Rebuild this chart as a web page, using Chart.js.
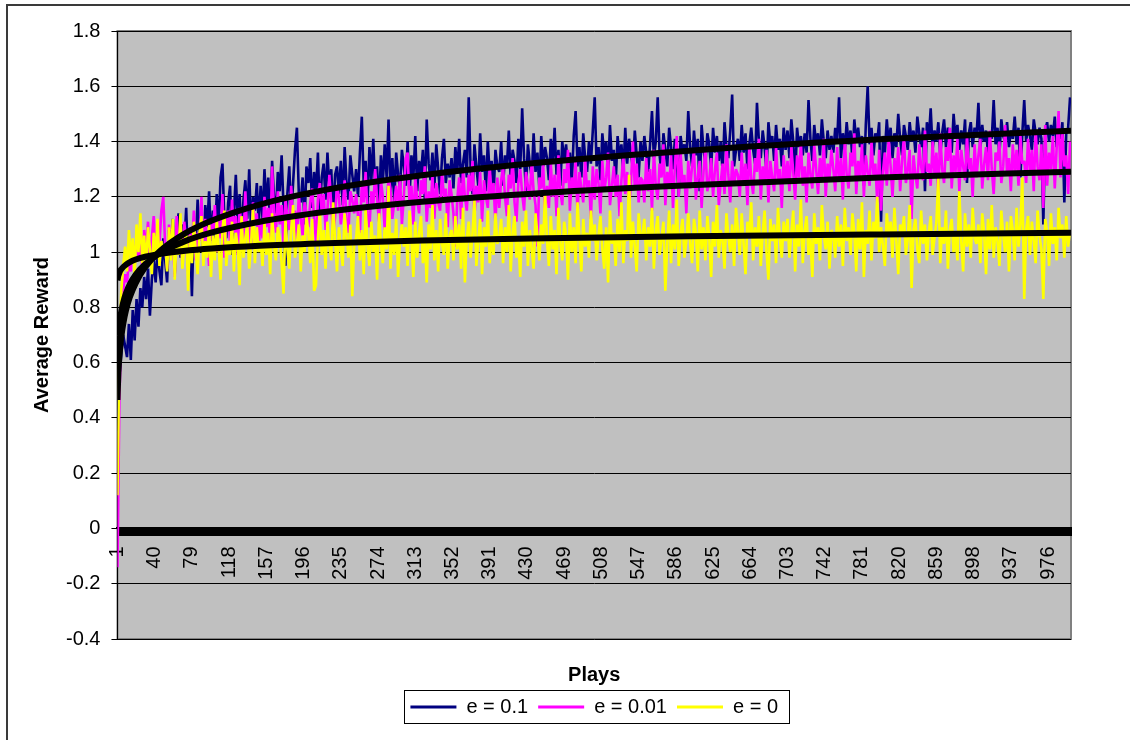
<!DOCTYPE html>
<html>
<head>
<meta charset="utf-8">
<title>Average Reward</title>
<script src="https://cdn.jsdelivr.net/npm/chart.js@4.4.1/dist/chart.umd.min.js"></script>
<style>
  html, body { margin: 0; padding: 0; background: #fff; }
  #wrap { width: 1130px; height: 740px; }
</style>
</head>
<body>
<div id="wrap"><canvas id="chart" width="1130" height="740"></canvas></div>
<script>
// Play numbers shown on the horizontal axis
const playTicks = [1, 40, 79, 118, 157, 196, 235, 274, 313, 352, 391, 430, 469, 508, 547, 586, 625, 664, 703, 742, 781, 820, 859, 898, 937, 976];

// Sampled plays for the reward curves (every second play)
const plays = Array.from({ length: 500 }, (_, i) => 2 * i + 1);

// Average reward, epsilon = 0.1
const rewardE01 = [
  0.40, 0.55, 0.63, 0.70, 0.66, 0.62, 0.74, 0.61, 0.79, 0.68, 0.83, 0.73, 0.87, 0.80, 0.91, 0.83, 0.94, 0.77, 0.90, 0.97, 0.89, 1.01, 0.93, 0.88, 1.05,
  0.97, 0.89, 1.08, 0.99, 1.12, 0.92, 1.05, 1.14, 0.98, 1.10, 1.02, 1.16, 0.95, 1.07, 0.84, 1.11, 1.03, 1.19, 1.06, 1.13, 0.99, 1.17, 1.09, 1.22, 1.04,
  1.15, 1.03, 1.21, 1.09, 1.27, 1.32, 1.12, 1.05, 1.18, 1.24, 0.99, 1.14, 1.28, 1.10, 1.21, 1.04, 1.19, 1.26, 1.12, 1.30, 1.07, 1.20, 1.15, 1.25, 1.10,
  1.24, 1.12, 1.30, 1.17, 1.27, 1.08, 1.33, 1.20, 1.14, 1.29, 1.22, 1.35, 1.16, 0.95, 1.21, 1.31, 1.13, 1.25, 1.37, 1.45, 1.21, 1.18, 1.27, 1.10, 1.31,
  1.25, 1.34, 1.16, 1.29, 1.21, 1.36, 1.14, 1.27, 1.32, 1.19, 1.36, 1.23, 1.30, 1.12, 1.28, 1.31, 1.21, 1.33, 1.17, 1.38, 1.25, 1.19, 1.35, 1.28, 1.22,
  1.30, 1.20, 1.36, 1.49, 1.24, 1.33, 1.17, 1.38, 1.26, 1.41, 1.22, 1.31, 1.15, 1.35, 1.25, 1.39, 1.27, 1.48, 1.21, 1.34, 1.18, 1.36, 1.28, 1.23, 1.37,
  1.31, 1.24, 1.40, 1.20, 1.35, 1.27, 1.42, 1.22, 1.33, 1.28, 1.37, 1.19, 1.48, 1.32, 1.26, 1.36, 1.23, 1.39, 1.30, 1.21, 1.34, 1.41, 1.25, 1.32, 1.27,
  1.34, 1.23, 1.38, 1.29, 1.41, 1.25, 1.32, 1.37, 1.27, 1.56, 1.30, 1.21, 1.39, 1.31, 1.24, 1.43, 1.29, 1.35, 1.22, 1.40, 1.28, 1.33, 1.20, 1.37, 1.31,
  1.29, 1.40, 1.24, 1.35, 1.31, 1.44, 1.26, 1.37, 1.33, 1.25, 1.41, 1.30, 1.52, 1.34, 1.22, 1.39, 1.32, 1.27, 1.43, 1.29, 1.36, 1.23, 1.42, 1.31, 1.38,
  1.34, 1.26, 1.41, 1.32, 1.45, 1.28, 1.37, 1.24, 1.40, 1.33, 1.39, 1.30, 1.36, 1.25, 1.42, 1.51, 1.31, 1.38, 1.27, 1.43, 1.34, 1.29, 1.40, 1.32, 1.44,
  1.56, 1.31, 1.38, 1.26, 1.43, 1.35, 1.40, 1.29, 1.46, 1.33, 1.37, 1.25, 1.42, 1.34, 1.39, 1.28, 1.45, 1.32, 1.41, 1.36, 1.30, 1.44, 1.35, 1.27, 1.40,
  1.33, 1.42, 1.36, 1.29, 1.39, 1.51, 1.34, 1.40, 1.56, 1.35, 1.28, 1.43, 1.37, 1.31, 1.45, 1.38, 1.30, 1.41, 1.34, 1.20, 1.42, 1.36, 1.39, 1.33, 1.51,
  1.38, 1.31, 1.44, 1.35, 1.41, 1.22, 1.46, 1.37, 1.32, 1.43, 1.39, 1.30, 1.45, 1.36, 1.42, 1.33, 1.40, 1.29, 1.47, 1.38, 1.34, 1.44, 1.57, 1.31, 1.37,
  1.41, 1.33, 1.46, 1.36, 1.43, 1.30, 1.39, 1.45, 1.37, 1.32, 1.54, 1.40, 1.34, 1.44, 1.38, 1.29, 1.47, 1.39, 1.42, 1.33, 1.46, 1.37, 1.41, 1.31, 1.45,
  1.37, 1.44, 1.34, 1.48, 1.40, 1.26, 1.45, 1.38, 1.42, 1.35, 1.43, 1.36, 1.55, 1.41, 1.33, 1.46, 1.39, 1.43, 1.35, 1.48, 1.40, 1.34, 1.44, 1.37, 1.42,
  1.36, 1.45, 1.40, 1.56, 1.34, 1.43, 1.37, 1.47, 1.39, 1.44, 1.33, 1.48, 1.40, 1.45, 1.38, 1.42, 1.24, 1.46, 1.60, 1.39, 1.45, 1.35, 1.43, 1.40, 1.47,
  1.11, 1.42, 1.36, 1.48, 1.39, 1.45, 1.34, 1.43, 1.38, 1.50, 1.41, 1.35, 1.46, 1.42, 1.37, 1.47, 1.40, 1.44, 1.36, 1.49, 1.43, 1.38, 1.45, 1.22, 1.47,
  1.41, 1.52, 1.37, 1.44, 1.40, 1.47, 1.35, 1.43, 1.48, 1.38, 1.45, 1.42, 1.36, 1.50, 1.41, 1.46, 1.37, 1.44, 1.39, 1.48, 1.25, 1.43, 1.47, 1.38, 1.45,
  1.42, 1.54, 1.37, 1.46, 1.40, 1.44, 1.36, 1.43, 1.41, 1.55, 1.39, 1.45, 1.35, 1.48, 1.42, 1.40, 1.47, 1.38, 1.44, 1.41, 1.49, 1.39, 1.45, 1.27, 1.43,
  1.55, 1.40, 1.46, 1.42, 1.37, 1.48, 1.43, 1.39, 1.45, 1.41, 1.10, 1.44, 1.47, 1.40, 1.46, 1.42, 1.49, 1.38, 1.44, 1.41, 1.47, 1.18, 1.43, 1.45, 1.56
];

// Average reward, epsilon = 0.01
const rewardE001 = [
  -0.14, 0.46, 0.74, 0.86, 0.92, 0.89, 0.97, 0.93, 1.02, 0.95, 1.06, 0.98, 1.04, 0.94, 1.08, 1.01, 1.11, 0.97, 1.05, 1.13, 1.00, 1.09, 1.03, 1.15, 1.20,
  1.02, 0.94, 1.10, 0.98, 1.06, 0.91, 1.13, 1.00, 1.08, 0.96, 1.11, 1.03, 0.93, 1.09, 1.01, 1.15, 0.97, 1.07, 1.04, 1.20, 0.99, 1.12, 1.05, 0.95, 1.10,
  1.08, 1.17, 1.00, 1.12, 1.05, 1.21, 0.98, 1.10, 1.15, 1.03, 1.19, 1.07, 1.13, 0.99, 1.16, 1.09, 1.04, 1.22, 1.06, 1.11, 1.01, 1.18, 1.10, 1.14, 1.02,
  1.12, 1.05, 1.20, 1.09, 1.16, 1.03, 1.31, 1.14, 1.07, 1.22, 1.10, 1.17, 1.02, 1.19, 1.13, 1.08, 1.24, 1.11, 1.15, 1.04, 1.21, 1.12, 1.06, 1.18, 1.14,
  1.09, 1.18, 1.23, 1.12, 1.04, 1.19, 1.25, 1.14, 1.21, 1.08, 1.15, 1.28, 1.17, 1.06, 1.13, 1.24, 1.20, 1.10, 1.16, 1.26, 1.11, 1.07, 1.22, 1.19, 1.14,
  1.21, 1.13, 1.07, 1.25, 1.18, 1.29, 1.14, 1.09, 1.22, 1.16, 1.30, 1.19, 1.11, 1.26, 1.20, 1.08, 1.17, 1.27, 1.23, 1.12, 1.18, 1.24, 1.15, 1.28, 1.10,
  1.20, 1.34, 1.36, 1.17, 1.24, 1.10, 1.27, 1.19, 1.14, 1.26, 1.21, 1.31, 1.11, 1.22, 1.16, 1.28, 1.12, 1.25, 1.18, 1.15, 1.29, 1.20, 1.23, 1.09, 1.26,
  1.21, 1.14, 1.02, 1.19, 1.27, 1.12, 1.30, 1.20, 1.15, 1.28, 1.22, 1.33, 1.13, 1.24, 1.18, 1.29, 1.11, 1.26, 1.20, 1.16, 1.31, 1.19, 1.25, 1.10, 1.27,
  1.16, 1.26, 1.31, 1.20, 1.13, 1.28, 1.23, 1.34, 1.18, 1.11, 1.25, 1.30, 1.21, 1.15, 1.29, 1.24, 1.19, 1.33, 1.22, 1.17, 1.02, 1.27, 1.23, 1.32, 1.14,
  1.24, 1.16, 1.32, 1.20, 1.28, 1.13, 1.35, 1.22, 1.17, 1.30, 1.25, 1.37, 1.15, 1.27, 1.21, 1.33, 1.14, 1.29, 1.23, 1.18, 1.34, 1.22, 1.26, 1.12, 1.31,
  1.19, 1.30, 1.25, 1.14, 1.33, 1.22, 1.27, 1.36, 1.17, 1.24, 1.31, 1.20, 1.28, 1.13, 1.26, 1.35, 1.21, 1.29, 1.16, 1.25, 1.40, 1.23, 1.32, 1.18, 1.27,
  1.26, 1.18, 1.34, 1.22, 1.30, 1.15, 1.37, 1.24, 1.19, 1.32, 1.27, 1.39, 1.17, 1.29, 1.23, 1.35, 1.16, 1.31, 1.42, 1.20, 1.36, 1.24, 1.28, 1.14, 1.33,
  1.23, 1.31, 1.37, 1.19, 1.27, 1.33, 1.16, 1.29, 1.38, 1.22, 1.26, 1.34, 1.20, 1.30, 1.36, 1.17, 1.25, 1.32, 1.21, 1.39, 1.28, 1.18, 1.33, 1.24, 1.30,
  1.28, 1.20, 1.36, 1.24, 1.32, 1.17, 1.39, 1.26, 1.21, 1.34, 1.29, 1.41, 1.19, 1.31, 1.25, 1.37, 1.18, 1.33, 1.27, 1.22, 1.38, 1.26, 1.30, 1.16, 1.35,
  1.25, 1.33, 1.22, 1.38, 1.29, 1.19, 1.35, 1.27, 1.40, 1.24, 1.31, 1.18, 1.36, 1.28, 1.23, 1.39, 1.30, 1.21, 1.34, 1.26, 1.41, 1.20, 1.32, 1.27, 1.37,
  1.30, 1.22, 1.38, 1.26, 1.34, 1.19, 1.41, 1.28, 1.23, 1.36, 1.31, 1.43, 1.21, 1.33, 1.27, 1.39, 1.20, 1.35, 1.29, 1.24, 1.40, 1.28, 1.32, 1.18, 1.37,
  1.15, 1.29, 1.36, 1.24, 1.41, 1.31, 1.20, 1.34, 1.27, 1.38, 1.22, 1.33, 1.42, 1.25, 1.30, 1.37, 1.12, 1.35, 1.28, 1.23, 1.39, 1.31, 1.26, 1.44, 1.29,
  1.32, 1.24, 1.40, 1.28, 1.36, 1.21, 1.43, 1.30, 1.25, 1.38, 1.33, 1.45, 1.23, 1.35, 1.29, 1.41, 1.22, 1.37, 1.31, 1.26, 1.42, 1.30, 1.34, 1.20, 1.39,
  1.27, 1.35, 1.41, 1.23, 1.32, 1.38, 1.26, 1.44, 1.30, 1.21, 1.36, 1.33, 1.40, 1.25, 1.31, 1.46, 1.28, 1.34, 1.22, 1.39, 1.29, 1.37, 1.24, 1.42, 1.32,
  1.33, 1.25, 1.41, 1.29, 1.37, 1.22, 1.44, 1.31, 1.26, 1.39, 1.16, 1.46, 1.24, 1.36, 1.30, 1.42, 1.23, 1.38, 1.51, 1.27, 1.43, 1.31, 1.35, 1.21, 1.40
];

// Average reward, epsilon = 0 (greedy)
const rewardE0 = [
  0.12, 0.63, 0.86, 0.95, 1.02, 0.93, 1.08, 0.97, 1.05, 0.91, 1.10, 1.00, 1.14, 0.96, 1.06, 0.94, 1.09, 1.01, 0.92, 1.07, 0.98, 1.12, 0.95, 1.04, 0.99,
  1.03, 0.93, 1.09, 0.97, 1.12, 0.90, 1.05, 0.99, 1.14, 0.94, 1.02, 1.08, 0.86, 1.06, 0.96, 1.11, 1.00, 0.92, 1.07, 1.13, 0.95, 1.04, 0.98, 1.10, 0.91,
  1.06, 0.97, 1.12, 1.01, 0.90, 1.08, 1.15, 0.95, 1.04, 0.99, 1.11, 0.93, 1.07, 1.02, 0.88, 1.13, 0.98, 1.05, 1.10, 0.94, 1.03, 1.16, 0.96, 1.09, 1.00,
  1.04, 0.95, 1.11, 0.99, 1.07, 0.92, 1.14, 1.02, 0.97, 1.09, 1.05, 0.96, 0.85, 1.12, 1.01, 0.94, 1.08, 1.17, 0.98, 1.03, 1.10, 0.93, 1.06, 1.00, 1.13,
  1.07, 0.96, 1.12, 0.86, 0.88, 1.05, 1.15, 0.99, 1.08, 0.94, 1.11, 1.02, 0.97, 1.18, 1.04, 0.93, 1.09, 1.01, 0.95, 1.14, 1.06, 0.98, 1.10, 0.84, 1.03,
  1.05, 1.13, 0.97, 1.08, 0.92, 1.16, 1.02, 0.95, 1.11, 1.00, 1.06, 0.90, 1.14, 1.03, 0.96, 1.09, 1.01, 1.24, 0.94, 1.07, 0.99, 1.12, 0.91, 1.04, 1.10,
  1.02, 1.09, 0.95, 1.15, 1.04, 0.91, 1.11, 0.98, 1.07, 1.13, 0.96, 1.05, 0.89, 1.10, 1.01, 1.17, 0.97, 1.08, 0.93, 1.12, 1.03, 0.99, 1.14, 0.94, 1.06,
  1.08, 0.97, 1.13, 1.01, 1.10, 0.94, 1.16, 0.89, 1.05, 1.11, 0.98, 1.07, 1.19, 0.95, 1.04, 1.12, 0.92, 1.09, 1.02, 1.15, 0.96, 1.06, 0.99, 1.14, 1.03,
  1.05, 1.12, 0.96, 1.09, 1.00, 1.17, 0.93, 1.07, 1.13, 0.98, 1.04, 0.91, 1.11, 1.02, 1.15, 0.95, 1.08, 1.01, 0.94, 1.14, 1.06, 0.97, 1.10, 1.03, 1.22,
  1.04, 0.95, 1.13, 1.01, 1.08, 0.92, 1.16, 1.03, 0.97, 1.11, 1.06, 0.90, 1.14, 1.00, 1.09, 0.96, 1.18, 1.05, 0.93, 1.12, 1.02, 1.07, 0.98, 1.15, 1.04,
  1.10, 0.97, 1.06, 1.13, 1.01, 0.94, 1.09, 0.89, 1.15, 1.03, 1.07, 0.95, 1.12, 1.00, 1.18, 0.96, 1.08, 1.04, 1.28, 0.98, 1.11, 1.02, 0.93, 1.14, 1.05,
  1.06, 1.12, 0.97, 1.09, 1.02, 1.16, 0.94, 1.08, 1.13, 0.99, 1.05, 1.11, 0.86, 1.03, 1.15, 0.96, 1.10, 1.01, 1.19, 0.95, 1.07, 1.12, 0.98, 1.04, 1.14,
  1.03, 0.96, 1.12, 1.07, 0.93, 1.15, 1.01, 1.09, 0.97, 1.13, 1.05, 0.91, 1.11, 1.02, 1.17, 0.98, 1.08, 1.04, 0.94, 1.14, 1.06, 1.00, 1.10, 0.95, 1.16,
  1.08, 0.99, 1.14, 1.03, 0.92, 1.11, 1.06, 1.18, 0.97, 1.09, 1.02, 1.13, 0.95, 1.07, 1.15, 1.00, 0.90, 1.12, 1.04, 1.10, 0.96, 1.16, 1.05, 0.98, 1.11,
  1.04, 1.12, 0.98, 1.07, 1.15, 0.93, 1.10, 1.02, 1.19, 0.96, 1.08, 1.13, 0.99, 1.05, 0.91, 1.14, 1.03, 1.09, 0.97, 1.17, 1.06, 1.01, 1.11, 0.94, 1.08,
  1.06, 0.98, 1.13, 1.02, 1.10, 0.95, 1.16, 1.04, 1.09, 0.99, 1.14, 1.07, 0.93, 1.12, 1.01, 1.18, 0.91, 1.08, 1.03, 1.15, 0.97, 1.11, 1.05, 1.20, 1.00,
  1.09, 1.02, 0.95, 1.14, 1.06, 1.11, 0.98, 1.16, 1.04, 0.92, 1.10, 1.07, 1.13, 0.99, 1.05, 1.17, 0.87, 1.08, 1.12, 1.01, 0.96, 1.15, 1.03, 1.10, 0.97,
  1.07, 1.13, 0.99, 1.05, 1.11, 1.27, 0.96, 1.09, 1.03, 1.15, 0.94, 1.08, 1.12, 1.00, 1.06, 0.97, 1.22, 1.04, 0.93, 1.14, 1.02, 1.10, 0.98, 1.16, 1.05,
  1.03, 1.10, 0.96, 1.14, 1.07, 0.92, 1.12, 1.01, 1.17, 0.98, 1.09, 1.04, 0.95, 1.15, 1.06, 1.00, 1.11, 0.93, 1.13, 1.08, 0.97, 1.16, 1.02, 1.10, 1.27,
  0.83, 1.08, 1.13, 0.99, 1.11, 1.04, 0.96, 1.15, 1.06, 1.01, 0.83, 1.12, 1.07, 0.95, 1.14, 1.03, 1.09, 0.97, 1.16, 1.05, 1.10, 0.98, 1.13, 1.02, 1.08
];

// Logarithmic trend curves, read at a handful of plays
const trendPlays = [1, 2, 3, 4, 5, 7, 10, 14, 20, 30, 45, 70, 100, 150, 220, 320, 450, 600, 800, 1000];
const trendE01  = [0.465, 0.563, 0.620, 0.660, 0.692, 0.739, 0.790, 0.837, 0.887, 0.945, 1.002, 1.064, 1.114, 1.172, 1.226, 1.278, 1.326, 1.367, 1.408, 1.439];
const trendE001 = [0.632, 0.698, 0.737, 0.764, 0.786, 0.818, 0.852, 0.884, 0.918, 0.956, 0.995, 1.037, 1.071, 1.110, 1.146, 1.182, 1.215, 1.242, 1.270, 1.291];
const trendE0   = [0.898, 0.915, 0.925, 0.933, 0.938, 0.946, 0.955, 0.964, 0.973, 0.983, 0.993, 1.004, 1.013, 1.023, 1.032, 1.042, 1.050, 1.057, 1.064, 1.070];

const seriesLabels = ['e = 0.1', 'e = 0.01', 'e = 0'];
const seriesColors = ['#000080', '#FF00FF', '#FFFF00'];

Chart.defaults.font.family = "'Liberation Sans', Arial, sans-serif";
Chart.defaults.color = '#000';

function rewardSet(values, idx, order) {
  return {
    label: seriesLabels[idx],
    data: plays.map((p, i) => ({ x: p, y: values[i] })),
    borderColor: seriesColors[idx],
    backgroundColor: seriesColors[idx],
    borderWidth: 2.6,
    borderJoinStyle: 'bevel',
    pointRadius: 0,
    tension: 0,
    order
  };
}

function trendSet(values, name) {
  return {
    label: name,
    data: trendPlays.map((p, i) => ({ x: p, y: values[i] })),
    borderColor: '#000',
    backgroundColor: '#000',
    borderWidth: 6,
    pointRadius: 0,
    cubicInterpolationMode: 'monotone',
    order: 0
  };
}

// Grey plot area, outer frame and the box around the legend
const framePlugin = {
  id: 'frame',
  beforeDraw(chart) {
    const { ctx, chartArea: a } = chart;
    ctx.save();
    ctx.fillStyle = '#fff';
    ctx.fillRect(0, 0, chart.width, chart.height);
    ctx.strokeStyle = '#3a3a3a';
    ctx.lineWidth = 2;
    ctx.strokeRect(7, 5, chart.width + 20, chart.height + 20);
    ctx.fillStyle = '#C0C0C0';
    ctx.fillRect(a.left, a.top, a.right - a.left, a.bottom - a.top);
    ctx.strokeStyle = '#808080';
    ctx.lineWidth = 2;
    ctx.strokeRect(a.left, a.top, a.right - a.left, a.bottom - a.top);
    ctx.restore();
  },
  afterDraw(chart) {
    const hb = chart.legend && chart.legend.legendHitBoxes;
    if (!hb || !hb.length) return;
    const first = hb[0], last = hb[hb.length - 1];
    const l = Math.round(first.left - 6) + 0.5;
    const r = Math.round(last.left + last.width + 11) + 0.5;
    const t = Math.round(first.top - 7) + 0.5;
    const b = Math.round(first.top + first.height + 6) + 0.5;
    const ctx = chart.ctx;
    ctx.save();
    ctx.strokeStyle = '#000';
    ctx.lineWidth = 1;
    ctx.strokeRect(l, t, r - l, b - t);
    ctx.restore();
  }
};

new Chart(document.getElementById('chart'), {
  type: 'line',
  data: {
    datasets: [
      rewardSet(rewardE01, 0, 3),
      rewardSet(rewardE001, 1, 2),
      rewardSet(rewardE0, 2, 1),
      trendSet(trendE01, 'trend e = 0.1'),
      trendSet(trendE001, 'trend e = 0.01'),
      trendSet(trendE0, 'trend e = 0')
    ]
  },
  options: {
    responsive: false,
    animation: false,
    devicePixelRatio: 1,
    layout: { padding: { left: 12, right: 59, top: 31, bottom: 13 } },
    scales: {
      x: {
        type: 'linear',
        min: 1,
        max: 1000,
        position: { y: 0 },
        grid: { display: true, drawOnChartArea: false, drawTicks: true, tickLength: 7, color: '#000', lineWidth: 1 },
        border: { display: true, color: '#000', width: 2 },
        ticks: {
          stepSize: 1,
          autoSkip: false,
          maxRotation: 90,
          minRotation: 90,
          padding: 11,
          color: '#000',
          font: { size: 20 },
          callback: (v) => playTicks.includes(v) ? String(v) : ''
        }
      },
      y: {
        min: -0.4,
        max: 1.8,
        grid: { color: '#000', lineWidth: 1, tickLength: 6, drawTicks: true },
        border: { display: true, color: '#000', width: 1 },
        ticks: {
          stepSize: 0.2,
          padding: 11,
          color: '#000',
          font: { size: 20 },
          callback: (v) => String(Math.round(v * 10) / 10)
        },
        title: {
          display: true,
          text: 'Average Reward',
          color: '#000',
          font: { size: 20, weight: 'bold' },
          padding: { top: 18, bottom: 1 }
        }
      }
    },
    plugins: {
      tooltip: { enabled: false },
      title: {
        display: true,
        text: 'Plays',
        position: 'bottom',
        fullSize: false,
        weight: 500,
        color: '#000',
        font: { size: 20, weight: 'bold' },
        padding: { top: 24, bottom: 0 }
      },
      legend: {
        position: 'bottom',
        fullSize: false,
        weight: 1000,
        labels: {
          boxWidth: 46,
          boxHeight: 3,
          padding: 10,
          color: '#000',
          font: { size: 20 },
          generateLabels(chart) {
            return Chart.defaults.plugins.legend.labels.generateLabels(chart)
              .filter((it) => it.datasetIndex < 3)
              .sort((a, b) => a.datasetIndex - b.datasetIndex)
              .map((it) => Object.assign(it, { lineWidth: 0, fillStyle: seriesColors[it.datasetIndex] }));
          }
        }
      }
    }
  },
  plugins: [framePlugin]
});
</script>
</body>
</html>
